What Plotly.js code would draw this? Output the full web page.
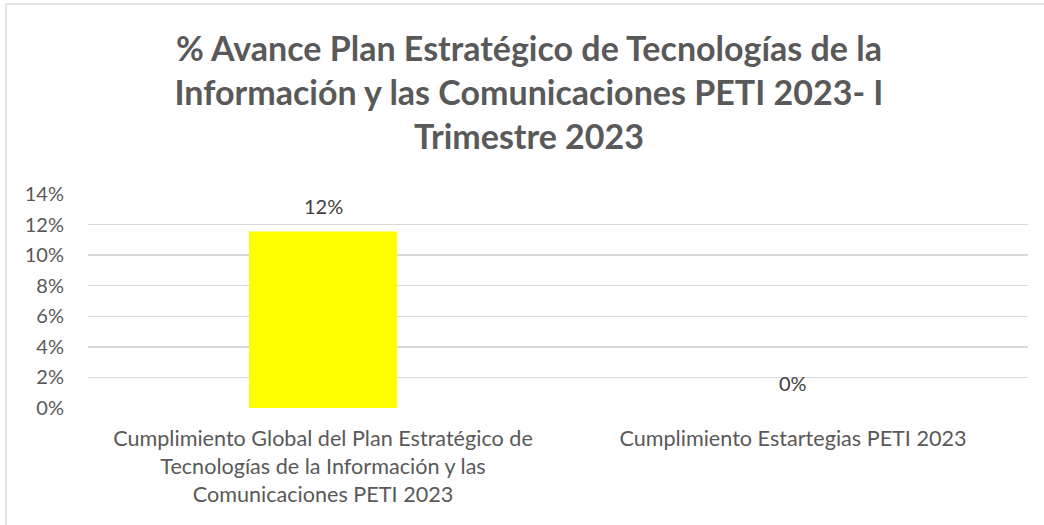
<!DOCTYPE html>
<html>
<head>
<meta charset="utf-8">
<script src="https://cdn.plot.ly/plotly-3.0.1.min.js"></script>
<style>
html,body{margin:0;padding:0;background:#fff;}
#chart{width:1044px;height:525px;}
</style>
</head>
<body>
<div id="chart"></div>
<script>
const categories = [
  "Cumplimiento Global del Plan Estratégico de Tecnologías de la Información y las Comunicaciones PETI 2023",
  "Cumplimiento Estartegias PETI 2023"
];
const categoryTickText = [
  "Cumplimiento Global del Plan Estratégico de<br>Tecnologías de la Información y las<br>Comunicaciones PETI 2023",
  "Cumplimiento Estartegias PETI 2023"
];
const values = [0.1155, 0];
const valueLabels = ["12%", "0%"];
const yTickVals = [0, 0.02, 0.04, 0.06, 0.08, 0.10, 0.12, 0.14];
const yTickText = ["0%", "2%", "4%", "6%", "8%", "10%", "12%", "14%"];
const titleText = "% Avance Plan Estratégico de Tecnologías de la<br>Información y las Comunicaciones PETI 2023- I<br>Trimestre 2023";

const W = 1044, H = 525;
const M = {l: 88, r: 16, t: 194, b: 117};
const pw = W - M.l - M.r, ph = H - M.t - M.b;
const px2x = p => (p - M.l) / pw;
const py2y = p => (H - M.b - p) / ph;

const textColor = "#595959";
const font = "Lato, 'Open Sans', sans-serif";

const trace = {
  type: "bar",
  x: categories,
  y: values,
  marker: {color: "#FFFF00"},
  hoverinfo: "skip"
};

const annotations = categories.map((c, i) => ({
  x: c, y: values[i], xref: "x", yref: "y",
  text: valueLabels[i], showarrow: false,
  yanchor: "middle", yshift: 25,
  font: {family: font, size: 20, color: "#404040"}
}));

const layout = {
  width: W, height: H,
  margin: M,
  paper_bgcolor: "#ffffff",
  plot_bgcolor: "#ffffff",
  showlegend: false,
  bargap: 0.685,
  title: {
    text: titleText,
    x: 529 / W, xanchor: "center",
    y: 1 - 61 / H, yanchor: "middle",
    yref: "container", xref: "container",
    font: {family: font, size: 34, color: textColor, weight: "bold"}
  },
  xaxis: {
    type: "category",
    tickvals: categories,
    ticktext: categoryTickText,
    showgrid: false, zeroline: false, showline: false,
    ticks: "",
    ticklabelstandoff: 15,
    tickfont: {family: font, size: 21.6, color: textColor},
    fixedrange: true
  },
  yaxis: {
    range: [0, 0.14],
    tickvals: yTickVals,
    ticktext: yTickText,
    showgrid: true, gridcolor: "#D9D9D9", gridwidth: 1.3,
    zeroline: false, showline: false,
    ticks: "",
    ticklabelstandoff: 23,
    tickfont: {family: font, size: 20, color: textColor},
    fixedrange: true
  },
  annotations: annotations,
  shapes: [
    {type: "line", xref: "paper", yref: "paper",
     x0: px2x(6), x1: px2x(W + 5), y0: py2y(4), y1: py2y(4),
     line: {color: "#D9D9D9", width: 1.5}},
    {type: "line", xref: "paper", yref: "paper",
     x0: px2x(6), x1: px2x(6), y0: py2y(4), y1: py2y(H + 5),
     line: {color: "#D9D9D9", width: 1.5}}
  ]
};

Plotly.newPlot("chart", [trace], layout, {displayModeBar: false, staticPlot: true});
</script>
</body>
</html>
